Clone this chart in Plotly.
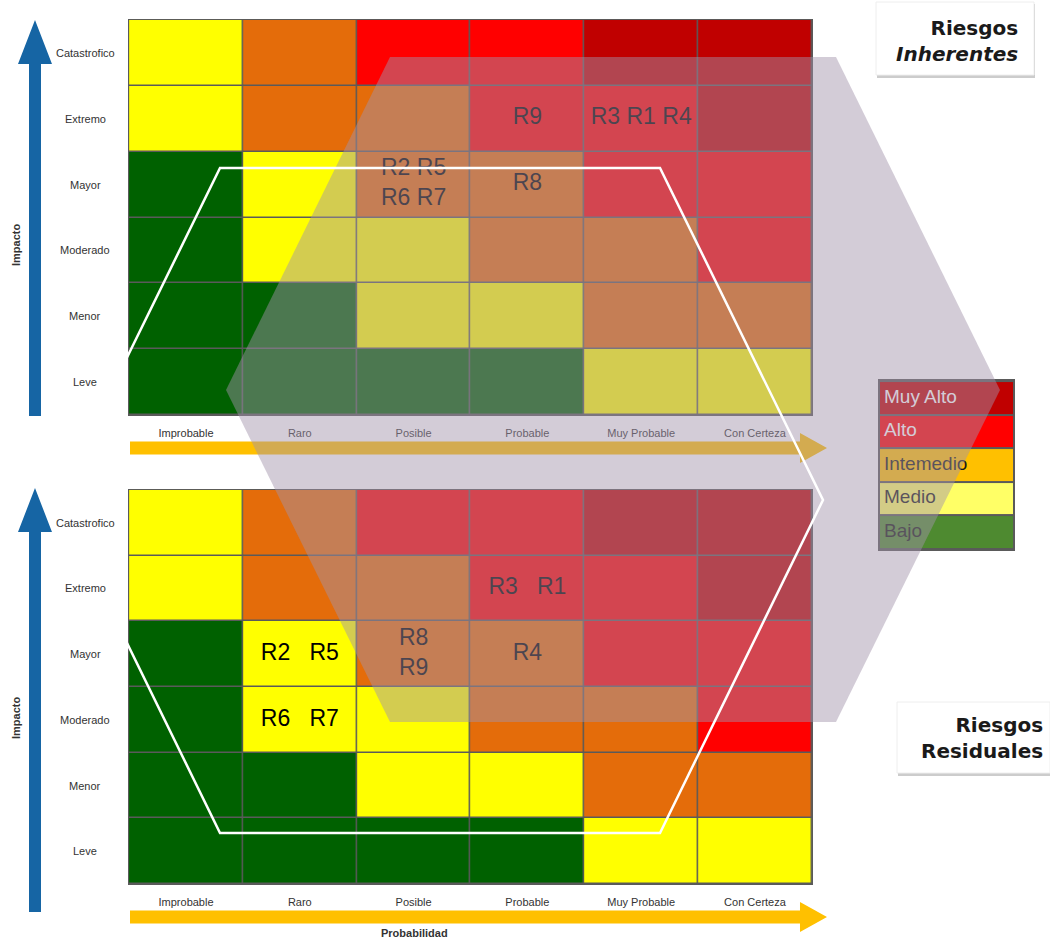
import plotly.graph_objects as go

W, H = 1050, 941

# ---------------- data ----------------
probabilidad = ["Improbable", "Raro", "Posible", "Probable", "Muy Probable", "Con Certeza"]
impacto = ["Leve", "Menor", "Moderado", "Mayor", "Extremo", "Catastrofico"]

# nivel de riesgo por celda (0 Bajo, 1 Medio, 2 Intermedio, 3 Alto, 4 Muy Alto)
# filas desde Leve (abajo) hasta Catastrofico (arriba)
nivel = [
    [0, 0, 0, 0, 1, 1],
    [0, 0, 1, 1, 2, 2],
    [0, 1, 1, 2, 2, 3],
    [0, 1, 2, 2, 3, 3],
    [1, 2, 2, 3, 3, 4],
    [1, 2, 3, 3, 4, 4],
]
matrix_colors = ["#006100", "#FFFF00", "#E46C0A", "#FF0000", "#C00000"]

niveles_leyenda = ["Bajo", "Medio", "Intemedio", "Alto", "Muy Alto"]
leyenda_colors = ["#4E8A30", "#FFFF66", "#FFC000", "#FF0000", "#C00000"]
leyenda_text_colors = ["#1a1a1a", "#1a1a1a", "#1a1a1a", "#FFFFFF", "#FFFFFF"]

# riesgos inherentes
inh_prob = ["Posible", "Probable", "Probable", "Muy Probable"]
inh_imp = ["Mayor", "Mayor", "Extremo", "Extremo"]
inh_txt = ["R2 R5<br>R6 R7", "R8", "R9", "R3 R1 R4"]

# riesgos residuales
res_prob = ["Raro", "Raro", "Posible", "Probable", "Probable"]
res_imp = ["Mayor", "Moderado", "Mayor", "Mayor", "Extremo"]
res_txt = ["R2   R5", "R6   R7", "R8<br>R9", "R4", "R3   R1"]

# ---------------- helpers ----------------
def px(x):
    return x / W

def py(y):
    return 1 - y / H

def discrete_scale(colors):
    n = len(colors)
    cs = []
    for i, c in enumerate(colors):
        cs.append([i / n, c])
        cs.append([(i + 1) / n, c])
    return cs

def nb(s):
    return s.replace(" ", "\u00a0")

def path(points):
    return "M " + " L ".join(f"{px(x):.5f},{py(y):.5f}" for x, y in points) + " Z"

FONT = "Liberation Sans, Arial, sans-serif"

fig = go.Figure()

# matrices
for xa, ya, probs, imps, txts in [
    ("x", "y", inh_prob, inh_imp, inh_txt),
    ("x2", "y2", res_prob, res_imp, res_txt),
]:
    fig.add_trace(go.Heatmap(
        z=nivel, x=list(range(len(probabilidad))), y=list(range(len(impacto))),
        colorscale=discrete_scale(matrix_colors), zmin=-0.5, zmax=len(matrix_colors) - 0.5,
        showscale=False, xgap=1.5, ygap=1.5, hoverinfo="skip", xaxis=xa, yaxis=ya,
    ))
    fig.add_trace(go.Scatter(
        x=[probabilidad.index(p) for p in probs],
        y=[impacto.index(i) for i in imps],
        text=[nb(t) for t in txts], mode="text", textposition="middle center",
        textfont=dict(family=FONT, size=23, color="#000000"),
        hoverinfo="skip", showlegend=False, xaxis=xa, yaxis=ya,
    ))

# legend block
fig.add_trace(go.Heatmap(
    z=[[i] for i in range(len(niveles_leyenda))], x=[0], y=list(range(len(niveles_leyenda))),
    colorscale=discrete_scale(leyenda_colors), zmin=-0.5, zmax=len(leyenda_colors) - 0.5,
    showscale=False, xgap=0, ygap=2, hoverinfo="skip", xaxis="x3", yaxis="y3",
))
fig.add_trace(go.Scatter(
    x=[-0.47] * len(niveles_leyenda), y=list(range(len(niveles_leyenda))),
    text=niveles_leyenda, mode="text", textposition="middle right",
    textfont=dict(family=FONT, size=19, color=leyenda_text_colors),
    hoverinfo="skip", showlegend=False, xaxis="x3", yaxis="y3",
))

xcommon = dict(range=[-0.51, 5.51], tickvals=list(range(6)), ticktext=probabilidad,
               showgrid=False, zeroline=False, ticks="", showline=False,
               tickfont=dict(family=FONT, size=11, color="#333333"), ticklabelstandoff=9,
               fixedrange=True)
ycommon = dict(range=[-0.515, 5.515], showticklabels=False, showgrid=False, zeroline=False,
               ticks="", fixedrange=True)

fig.update_layout(
    width=W, height=H, margin=dict(l=0, r=0, t=0, b=0),
    paper_bgcolor="white", plot_bgcolor="#5a5a5a", showlegend=False,
    xaxis=dict(domain=[px(128), px(813)], anchor="y", **xcommon),
    yaxis=dict(domain=[py(416), py(19)], anchor="x", **ycommon),
    xaxis2=dict(domain=[px(128), px(813)], anchor="y2", **xcommon),
    yaxis2=dict(domain=[py(885), py(489)], anchor="x2", **ycommon),
    xaxis3=dict(domain=[px(878), px(1015)], anchor="y3", range=[-0.515, 0.515], visible=False,
                fixedrange=True),
    yaxis3=dict(domain=[py(551), py(379)], anchor="x3", range=[-0.56, 4.56], visible=False,
                fixedrange=True),
)

shapes = []
blue = "#1665A4"
orange = "#FFC000"
# blue vertical arrows
for top, bottom in [(20, 416), (488, 912)]:
    shapes.append(dict(type="path", xref="paper", yref="paper", layer="above",
                       path=path([(29, bottom), (29, top + 44), (18, top + 44), (35, top),
                                  (52, top + 44), (41, top + 44), (41, bottom)]),
                       fillcolor=blue, line=dict(width=0)))
# orange horizontal arrows
for yc in [448, 917]:
    shapes.append(dict(type="path", xref="paper", yref="paper", layer="above",
                       path=path([(130, yc - 6.5), (800, yc - 6.5), (800, yc - 15), (827, yc),
                                  (800, yc + 15), (800, yc + 6.5), (130, yc + 6.5)]),
                       fillcolor=orange, line=dict(width=0)))
# title boxes
for (x0, y0, x1, y1) in [(876, 2, 1034, 75), (897, 702, 1050, 773)]:
    shapes.append(dict(type="rect", xref="paper", yref="paper", layer="above",
                       x0=px(x0 + 1), x1=px(min(x1 + 1, 1050)), y0=py(y1 + 3), y1=py(y0 + 2),
                       fillcolor="#cccccc", line=dict(width=0)))
    shapes.append(dict(type="rect", xref="paper", yref="paper", layer="above",
                       x0=px(x0), x1=px(x1), y0=py(y1), y1=py(y0),
                       fillcolor="white", line=dict(width=1, color="#eeeeee")))
# translucent overlay arrow
shapes.append(dict(type="path", xref="paper", yref="paper", layer="above",
                   path=path([(226, 390), (390, 57), (836, 57), (1000, 390), (836, 722), (390, 722)]),
                   fillcolor="rgba(161,146,171,0.47)", line=dict(width=0)))
# white hexagon outline
shapes.append(dict(type="path", xref="paper", yref="paper", layer="above",
                   path=path([(57, 500), (220, 168), (660, 168), (823, 500), (660, 833), (220, 833)]),
                   fillcolor="rgba(0,0,0,0)", line=dict(width=2.5, color="white")))
fig.update_layout(shapes=shapes)

ann = []
for yref in ["y", "y2"]:
    for i, lab in enumerate(impacto):
        ann.append(dict(x=px(85), xref="paper", y=i, yref=yref, text=lab, showarrow=False,
                        xanchor="center", yanchor="middle",
                        font=dict(family=FONT, size=11, color="#333333")))
for yc in [245, 718]:
    ann.append(dict(x=px(16), xref="paper", y=py(yc), yref="paper", text="<b>Impacto</b>",
                    textangle=-90, showarrow=False, xanchor="center", yanchor="middle",
                    font=dict(family=FONT, size=11, color="#333333")))
ann.append(dict(x=px(414), xref="paper", y=py(933), yref="paper", text="<b>Probabilidad</b>",
                showarrow=False, xanchor="center", yanchor="middle",
                font=dict(family=FONT, size=11, color="#333333")))
TFONT = dict(family="DejaVu Sans, Verdana, sans-serif", size=20, color="#1a1a1a")
ann.append(dict(x=px(1020), xref="paper", y=py(41), yref="paper",
                text="<b>Riesgos</b><br><b><i>Inherentes</i></b>", align="right",
                showarrow=False, xanchor="right", yanchor="middle", font=TFONT))
ann.append(dict(x=px(1045), xref="paper", y=py(738), yref="paper",
                text="<b>Riesgos</b><br><b>Residuales</b>", align="right",
                showarrow=False, xanchor="right", yanchor="middle", font=TFONT))
fig.update_layout(annotations=ann)

fig.write_html("out.html", config={"displayModeBar": False},
               post_script="document.body.style.margin='0px';")
